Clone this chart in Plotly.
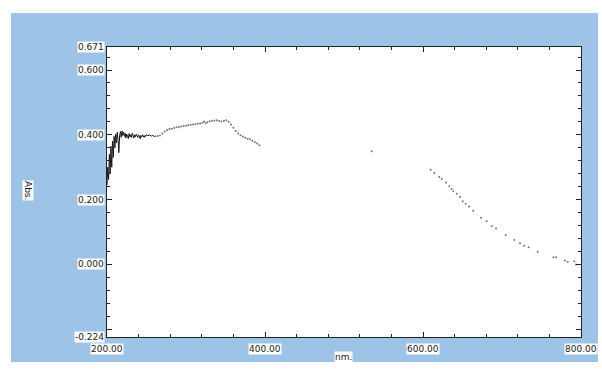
import plotly.graph_objects as go

# ---- data ----
dense_nm = [200, 201, 202, 203, 204, 205, 206, 207, 208, 209, 210, 211, 212, 213, 214, 215,
            216, 217, 218, 219, 220, 221, 222, 223, 224, 225, 226, 227, 228, 229, 230, 231,
            232, 233, 234, 235, 236, 237, 238, 239, 240, 241, 242, 243, 244, 245, 246, 247,
            248, 249, 250, 252, 254, 256, 258, 260, 262]
dense_abs = [0.245, 0.300, 0.262, 0.340, 0.280, 0.365, 0.300, 0.380, 0.330, 0.395, 0.360, 0.402,
             0.375, 0.408, 0.385, 0.345, 0.398, 0.410, 0.392, 0.412, 0.398, 0.408, 0.395, 0.405,
             0.390, 0.402, 0.396, 0.388, 0.404, 0.393, 0.400, 0.392, 0.405, 0.396, 0.390, 0.400,
             0.394, 0.402, 0.396, 0.392, 0.400, 0.395, 0.388, 0.398, 0.393, 0.400, 0.396, 0.392,
             0.398, 0.395, 0.400, 0.397, 0.400, 0.396, 0.398, 0.395, 0.396]

dot_nm = [264, 267, 270, 273, 276, 279, 282, 285, 288, 291, 294, 297, 300, 303, 306, 309,
          312, 315, 318, 321, 323, 325, 327, 330, 333, 336, 339, 342, 345, 348, 351, 354,
          357, 360, 363, 366, 369, 372, 375, 378, 381, 384, 387, 390, 393,
          535,
          609.7, 614.3, 620.6, 623.7, 629.1, 633.3, 636.3, 638.4, 642.7, 646.8, 650.3, 654.1,
          658.2, 663.7, 673.4, 680.6, 687.0, 692.4, 704.7, 715.6, 722.8, 728.2, 733.8, 745.2,
          765.0, 768.4, 779.7, 783.2, 791.5, 793.7]
dot_abs = [0.396, 0.398, 0.404, 0.410, 0.414, 0.418, 0.419, 0.421, 0.423, 0.424, 0.426, 0.427,
           0.428, 0.430, 0.431, 0.432, 0.433, 0.434, 0.435, 0.437, 0.441, 0.436, 0.439, 0.442,
           0.443, 0.444, 0.445, 0.443, 0.441, 0.443, 0.445, 0.440, 0.432, 0.422, 0.412, 0.404,
           0.399, 0.395, 0.391, 0.388, 0.386, 0.382, 0.378, 0.373, 0.368,
           0.349,
           0.292, 0.282, 0.270, 0.264, 0.253, 0.241, 0.233, 0.226, 0.218, 0.208, 0.195, 0.187,
           0.179, 0.166, 0.144, 0.133, 0.118, 0.111, 0.091, 0.075, 0.065, 0.058, 0.053, 0.039,
           0.022, 0.022, 0.012, 0.008, 0.010, 0.000]

x_tick_vals = [200, 400, 600, 800]
x_tick_text = ["200.00", "400.00", "600.00", "800.00"]
y_tick_vals = [0.671, 0.6, 0.4, 0.2, 0.0, -0.224]
y_tick_text = ["0.671", "0.600", "0.400", "0.200", "0.000", "-0.224"]

X_RANGE = [200, 800]
Y_RANGE = [-0.224, 0.671]

# ---- layout geometry (pixels) ----
W, H = 602, 374
L, R, T, B = 107, 21, 47, 37
PW, PH = W - L - R, H - T - B
BLUE = "#9dc3e6"
FONT = "DejaVu Sans"


def px_to_paper(px, py):
    return (px - L) / PW, (H - B - py) / PH


fig = go.Figure()
fig.add_trace(go.Scatter(x=dense_nm, y=dense_abs, mode="lines",
                         line=dict(color="#1a1a1a", width=1), showlegend=False))
fig.add_trace(go.Scatter(x=dot_nm, y=dot_abs, mode="markers",
                         marker=dict(color="#777777", size=2), showlegend=False))

# white outer border around the blue panel
shapes = []
for (a, b, c, d) in [(0, 0, W, 13), (0, 0, 11, H), (598, 0, W, H), (0, 362, W, H)]:
    xa, ya = px_to_paper(a, d)
    xb, yb = px_to_paper(c, b)
    shapes.append(dict(type="rect", xref="paper", yref="paper", x0=xa, y0=ya, x1=xb, y1=yb,
                       fillcolor="white", line=dict(width=0), layer="below"))

annotations = []
lab_font = dict(family=FONT, size=9, color="#222222")
for v, t in zip(y_tick_vals, y_tick_text):
    annotations.append(dict(x=0, xref="paper", y=v, yref="y", text=t, showarrow=False,
                            xanchor="right", xshift=-2, font=lab_font, bgcolor="white",
                            borderpad=0))
ypp = px_to_paper(0, 349)[1]
for v, t in zip(x_tick_vals, x_tick_text):
    annotations.append(dict(x=v, xref="x", y=ypp, yref="paper", text=t, showarrow=False,
                            xanchor="center", yanchor="middle", font=lab_font,
                            bgcolor="white", borderpad=0))
ax, ay = px_to_paper(343, 357)
annotations.append(dict(x=ax, y=ay, xref="paper", yref="paper", text="nm.", showarrow=False,
                        xanchor="center", yanchor="middle", font=lab_font, bgcolor="white",
                        borderpad=0))
bx, by = px_to_paper(28, 190)
annotations.append(dict(x=bx, y=by, xref="paper", yref="paper", text="Abs.", showarrow=False,
                        xanchor="center", yanchor="middle", font=lab_font, bgcolor="white",
                        borderpad=0, textangle=90))

axis_common = dict(showgrid=False, zeroline=False, showline=True, linecolor="#222222",
                   linewidth=1, mirror="allticks", ticks="inside", tickcolor="#222222",
                   showticklabels=False)

fig.update_layout(
    width=W, height=H,
    margin=dict(l=L, r=R, t=T, b=B),
    paper_bgcolor=BLUE, plot_bgcolor="white",
    xaxis=dict(range=X_RANGE, tick0=0, dtick=200, ticklen=5,
               minor=dict(dtick=40, ticks="inside", ticklen=3, tickcolor="#222222"),
               **axis_common),
    yaxis=dict(range=Y_RANGE, tick0=0, dtick=0.2, ticklen=5,
               minor=dict(dtick=0.04, ticks="inside", ticklen=3, tickcolor="#222222"),
               **axis_common),
    shapes=shapes, annotations=annotations, showlegend=False,
)

fig.write_html("out.html", config={"displayModeBar": False},
               post_script="document.body.style.margin='0';document.body.style.overflow='hidden';")
